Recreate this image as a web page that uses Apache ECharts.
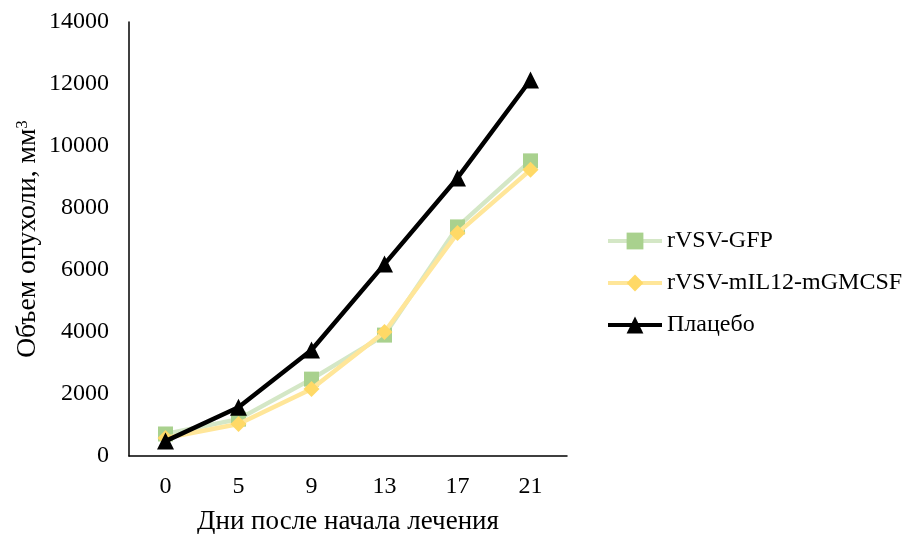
<!DOCTYPE html>
<html>
<head>
<meta charset="utf-8">
<script src="https://cdn.jsdelivr.net/npm/echarts@6/dist/echarts.min.js"></script>
<style>
  html, body { margin: 0; padding: 0; background: #fff; }
  #chart { width: 905px; height: 534px; }
</style>
</head>
<body>
<div id="chart"></div>
<script>
// Days after start of treatment
const days = ['0', '5', '9', '13', '17', '21'];
// Tumour volume, mm^3
const gfp = [710, 1190, 2480, 3900, 7390, 9520];
const il12 = [580, 1030, 2160, 4000, 7190, 9230];
const placebo = [480, 1570, 3420, 6190, 8970, 12130];

const serif = '"Liberation Serif", "Times New Roman", serif';

const chart = echarts.init(document.getElementById('chart'));
chart.setOption({
  animation: false,
  backgroundColor: '#fff',
  textStyle: { fontFamily: serif, color: '#000' },
  grid: { left: 129, right: 338, top: 22, bottom: 78, containLabel: false, outerBoundsMode: 'none' },
  legend: {
    orient: 'vertical',
    left: 601,
    top: 224,
    itemWidth: 54,
    itemHeight: 21,
    itemGap: 18,
    lineStyle: { width: 4 },
    textStyle: { fontFamily: serif, fontSize: 24, color: '#000' },
    data: ['rVSV-GFP', 'rVSV-mIL12-mGMCSF', 'Плацебо']
  },
  xAxis: {
    type: 'category',
    data: days,
    boundaryGap: true,
    name: 'Дни после начала лечения',
    nameLocation: 'middle',
    nameGap: 52,
    nameTextStyle: { fontFamily: serif, fontSize: 27, color: '#000' },
    axisLine: { lineStyle: { color: '#000', width: 1.5 } },
    axisTick: { show: false },
    axisLabel: { fontFamily: serif, fontSize: 24, color: '#000', margin: 19 }
  },
  yAxis: {
    type: 'value',
    min: 0,
    max: 14000,
    interval: 2000,
    name: 'Объем опухоли, мм{sup|3}',
    nameLocation: 'middle',
    nameGap: 87,
    nameTextStyle: {
      fontFamily: serif, fontSize: 27.5, color: '#000',
      rich: { sup: { fontFamily: serif, fontSize: 17, verticalAlign: 'top', lineHeight: 27, padding: [0, 0, 11, 0] } }
    },
    axisLine: { show: true, lineStyle: { color: '#000', width: 1.5 } },
    axisTick: { show: false },
    splitLine: { show: false },
    axisLabel: { fontFamily: serif, fontSize: 24, color: '#000', margin: 20, formatter: (v) => String(v) }
  },
  series: [
    {
      name: 'rVSV-GFP',
      type: 'line',
      data: gfp,
      symbol: 'rect',
      symbolSize: 15,
      lineStyle: { color: '#d4e7c6', width: 4.5 },
      itemStyle: { color: '#a9d18e' },
      z: 2
    },
    {
      name: 'rVSV-mIL12-mGMCSF',
      type: 'line',
      data: il12,
      symbol: 'diamond',
      symbolSize: 16,
      lineStyle: { color: '#ffe699', width: 4.5 },
      itemStyle: { color: '#ffd966' },
      z: 3
    },
    {
      name: 'Плацебо',
      type: 'line',
      data: placebo,
      symbol: 'triangle',
      symbolSize: 17,
      lineStyle: { color: '#000', width: 4.5 },
      itemStyle: { color: '#000' },
      z: 4
    }
  ]
});
</script>
</body>
</html>
